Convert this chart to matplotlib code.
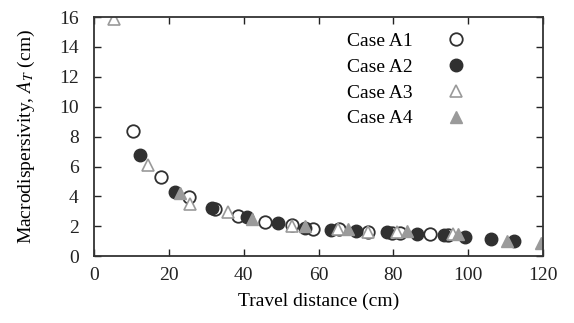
import matplotlib
matplotlib.use("Agg")
import matplotlib.pyplot as plt

plt.rcParams['font.family'] = ['Liberation Serif', 'DejaVu Serif']
plt.rcParams['mathtext.fontset'] = 'stix'

a1_x = [10.4, 17.9, 25.4, 32.4, 38.5, 45.7, 52.9, 58.6, 65.5, 73.3, 79.7, 81.8, 89.8, 94.6]
a1_y = [8.4, 5.3, 3.95, 3.15, 2.7, 2.3, 2.1, 1.8, 1.8, 1.6, 1.55, 1.55, 1.45, 1.4]
a2_x = [12.3, 21.7, 31.6, 40.8, 49.2, 56.4, 63.3, 70.0, 78.3, 86.4, 93.5, 99.2, 106.1, 112.3]
a2_y = [6.8, 4.3, 3.2, 2.6, 2.2, 1.9, 1.75, 1.7, 1.6, 1.45, 1.4, 1.25, 1.15, 1.0]
a3_x = [5.3, 14.4, 25.7, 35.8, 52.9, 65.2, 73.3, 81.0, 96.0]
a3_y = [15.9, 6.1, 3.5, 2.95, 2.0, 1.85, 1.6, 1.6, 1.45]
a4_x = [23.0, 42.2, 56.4, 68.0, 83.7, 97.3, 110.4, 119.5]
a4_y = [4.2, 2.5, 2.0, 1.8, 1.7, 1.5, 1.0, 0.85]

x_ticks = [0, 20, 40, 60, 80, 100, 120]
y_ticks = [0, 2, 4, 6, 8, 10, 12, 14, 16]

fig = plt.figure(figsize=(5.74, 3.23), dpi=100)
ax = fig.add_axes([0.164, 0.207, 0.782, 0.740])

dark = '#303030'
grey = '#9a9a9a'
ms = 9
ax.plot(a1_x, a1_y, ls='none', marker='o', ms=ms, mfc='white', mec=dark, mew=1.3, label='Case A1')
ax.plot(a2_x, a2_y, ls='none', marker='o', ms=ms, mfc=dark, mec=dark, mew=1.0, label='Case A2')
ax.plot(a3_x, a3_y, ls='none', marker='^', ms=ms, mfc='white', mec=grey, mew=1.2, label='Case A3')
ax.plot(a4_x, a4_y, ls='none', marker='^', ms=ms, mfc=grey, mec=grey, mew=1.0, label='Case A4')

ax.set_xlim(0, 120)
ax.set_ylim(0, 16)
ax.set_xticks(x_ticks)
ax.set_yticks(y_ticks)
ax.tick_params(direction='in', top=True, right=True, labelsize=14, length=5, width=1, colors='#222222')
ax.tick_params(axis='x', pad=8)
ax.tick_params(axis='y', pad=11)
for s in ax.spines.values():
    s.set_linewidth(1.3)
    s.set_color('#333333')

ax.set_xlabel('Travel distance (cm)', fontsize=14, labelpad=6)
ax.set_ylabel('Macrodispersivity, $A_T$ (cm)', fontsize=14, labelpad=16)

leg = ax.legend(loc='upper right', bbox_to_anchor=(0.875, 0.985), markerfirst=False, frameon=False,
                fontsize=14, handletextpad=1.2, labelspacing=0.42, borderaxespad=0.2)

fig.savefig('out.png', dpi=100)
